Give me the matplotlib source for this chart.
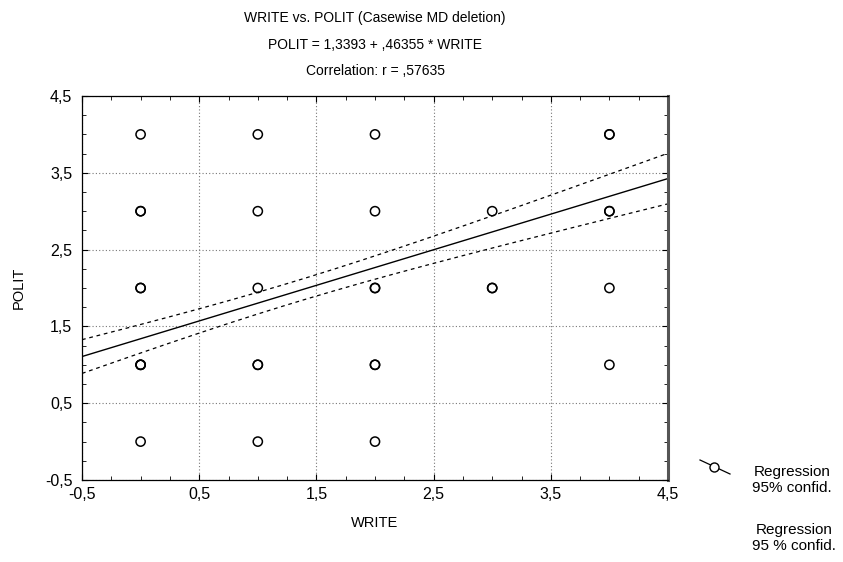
import numpy as np
import matplotlib
matplotlib.use('Agg')
import matplotlib.pyplot as plt
from matplotlib.lines import Line2D
from matplotlib.ticker import FixedLocator, FuncFormatter

plt.rcParams['font.family'] = ['Liberation Sans', 'DejaVu Sans']

# observed cases (repeated pairs overlap, drawn several times)
write = [0, 0, 0, 0, 0, 0, 0, 0, 0,
         1, 1, 1, 1, 1, 1,
         2, 2, 2, 2, 2, 2, 2,
         3, 3, 3,
         4, 4, 4, 4, 4, 4]
polit = [0, 1, 1, 2, 2, 3, 3, 4, 1,
         0, 1, 1, 2, 3, 4,
         0, 1, 1, 2, 2, 3, 4,
         2, 2, 3,
         1, 2, 3, 3, 4, 4]

# regression from the title
intercept = 1.3393
slope = 0.46355
r_value = 0.57635

# confidence band parameters
x_mean = 1.32
ci_at_mean = 0.138
ci_slope = 0.094

ticks = [-0.5, 0.5, 1.5, 2.5, 3.5, 4.5]


def comma_num(v, digits):
    # STATISTICA style: decimal comma, no leading zero
    s = f'{v:.{digits}f}'.replace('.', ',')
    if s.startswith('0,'):
        s = s[1:]
    return s


fig = plt.figure(figsize=(8.43, 5.62), dpi=100)
ax = fig.add_axes([82 / 843, 1 - 480 / 562, 586 / 843, 384 / 562])

ax.scatter(write, polit, s=44, facecolors='none', edgecolors='black',
           linewidths=1.1, zorder=3)

xs = np.linspace(-0.5, 4.5, 200)
fit = intercept + slope * xs
half = np.sqrt(ci_at_mean ** 2 + (ci_slope * (xs - x_mean)) ** 2)
ax.plot(xs, fit, color='black', lw=1.0, zorder=2)
ax.plot(xs, fit + half, color='black', lw=0.9, ls=(0, (3, 3)), zorder=2)
ax.plot(xs, fit - half, color='black', lw=0.9, ls=(0, (3, 3)), zorder=2)

ax.set_xlim(-0.5, 4.5)
ax.set_ylim(-0.5, 4.5)
tick_fmt = FuncFormatter(lambda v, p: f'{v:.1f}'.replace('.', ','))
ax.xaxis.set_major_locator(FixedLocator(ticks))
ax.yaxis.set_major_locator(FixedLocator(ticks))
ax.xaxis.set_major_formatter(tick_fmt)
ax.yaxis.set_major_formatter(tick_fmt)
ax.xaxis.set_minor_locator(FixedLocator(np.arange(-0.5, 4.51, 0.25)))
ax.yaxis.set_minor_locator(FixedLocator(np.arange(-0.5, 4.51, 0.25)))
ax.tick_params(which='both', direction='in', top=True, right=True,
               labelsize=11.5, color='black')
ax.tick_params(axis='x', pad=5)
ax.tick_params(axis='y', pad=7)
ax.tick_params(which='major', length=4)
ax.tick_params(which='minor', length=3)
ax.grid(True, which='major', color='#777777', lw=0.8, ls=(0, (1, 2)))
for s in ax.spines.values():
    s.set_linewidth(0.9)
ax.spines['right'].set_linewidth(2.2)
ax.spines['right'].set_color('#555555')

ax.set_xlabel('WRITE', fontsize=10.5, va='center')
ax.xaxis.set_label_coords(0.5, -(523 - 480) / 384)
ax.set_ylabel('POLIT', fontsize=10.5, va='center')
ax.yaxis.set_label_coords(-(82 - 19) / 586, 0.5)

cx = 375 / 843
fig.text(cx, 1 - 18 / 562, 'WRITE vs. POLIT (Casewise MD deletion)',
         ha='center', va='center', fontsize=10)
fig.text(cx, 1 - 45 / 562,
         f'POLIT = {comma_num(intercept, 4)} + {comma_num(slope, 5)} * WRITE',
         ha='center', va='center', fontsize=10)
fig.text(cx, 1 - 71 / 562, f'Correlation: r = {comma_num(r_value, 5)}',
         ha='center', va='center', fontsize=10)

# legend drawn in figure pixels
fig.add_artist(Line2D([700 / 843, 730 / 843], [1 - 460 / 562, 1 - 474 / 562],
                      transform=fig.transFigure, color='black', lw=0.9))
fig.add_artist(Line2D([714 / 843], [1 - 466.5 / 562], transform=fig.transFigure,
                      marker='o', markersize=6.5, markerfacecolor='white',
                      markeredgecolor='black', markeredgewidth=1.0, ls='none'))
fig.text(792 / 843, 1 - 480 / 562, 'Regression\n95% confid.', ha='center',
         va='center', fontsize=11, linespacing=1.1)
fig.text(794 / 843, 1 - 538 / 562, 'Regression\n95 % confid.', ha='center',
         va='center', fontsize=11, linespacing=1.1)

fig.savefig('out.png', dpi=100)
